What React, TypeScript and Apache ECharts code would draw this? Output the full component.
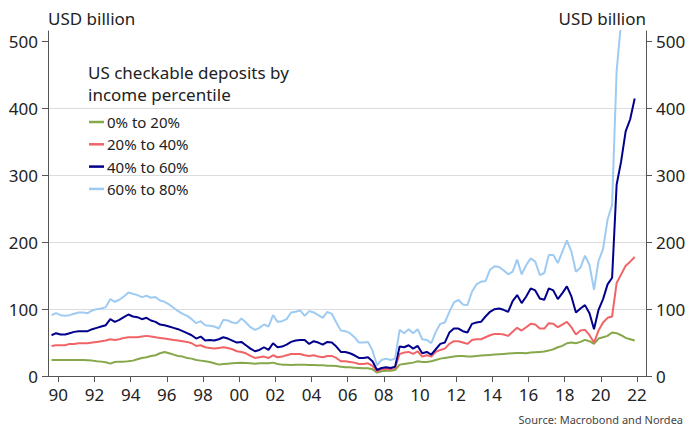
import React, { useEffect, useRef } from "react";
import * as echarts from "echarts";

// Quarterly series, first observation 1989 Q3, last 2021 Q4 (USD billion)
const FIRST_YEAR = 1989;
const FIRST_QUARTER = 3;

const pct0to20 = [
  24, 24,
  24, 24, 24, 24,
  24, 24, 23.5, 23,
  22, 21.5, 20.5, 18.5,
  21, 21.5, 21.5, 22,
  23, 25, 27, 28,
  30, 31, 34, 36,
  34, 32, 30, 29,
  27, 26, 24, 23,
  22, 21, 19, 17,
  18, 18.5, 19, 19.5,
  20, 19.5, 19, 18.5,
  19, 19, 19, 20,
  18, 17, 17, 16.5,
  17, 17, 17, 16.5,
  16.5, 16, 16, 15.5,
  15.5, 15, 14, 13,
  13, 12.5, 12, 11.5,
  11.5, 10, 5, 7,
  8, 8, 9, 17,
  18, 19, 20, 22,
  21, 21, 22, 24,
  26, 27, 28, 29,
  30, 30, 29, 29,
  30, 30.5, 31, 31.5,
  32, 32.5, 33, 33.5,
  34, 34.5, 34.5, 34,
  35, 35.5, 36, 36.5,
  38, 40, 43, 45,
  49, 50, 49, 51,
  54, 52, 48, 56,
  58, 60, 65, 64,
  61, 57, 55, 53,
];

const pct20to40 = [
  45, 46,
  46, 46, 48, 48,
  49, 49, 49, 50,
  51, 52, 53, 55,
  54, 55, 57, 58,
  58, 58, 59, 60,
  59, 58, 57, 56,
  55, 54, 53, 52,
  51, 49, 45, 46,
  43, 42, 41, 42,
  43, 42, 40, 37,
  36, 34, 30, 27,
  28, 29, 27, 31,
  28, 29, 31, 33,
  33, 33, 31, 30,
  31, 29, 28, 30,
  30, 27, 22, 22,
  21, 20, 18, 18,
  19, 15, 7, 10,
  11, 10, 12, 33,
  35, 36, 33, 37,
  29, 31, 29, 36,
  39, 41, 48, 52,
  52, 50, 48, 54,
  55, 55, 58, 61,
  63, 63, 62, 60,
  66, 72, 68, 73,
  78, 77, 71, 71,
  79, 78, 73, 77,
  81, 73, 62, 68,
  69, 61, 50, 68,
  80, 87, 89, 139,
  152, 165, 171, 178,
];

const pct40to60 = [
  61, 64,
  62, 62, 64, 66,
  67, 67, 67, 70,
  72, 74, 76, 85,
  81, 84, 88, 92,
  89, 88, 85, 87,
  83, 81, 77, 76,
  74, 72, 70, 67,
  64, 61, 56, 59,
  53, 54, 53, 55,
  58, 56, 53, 50,
  51, 46, 41, 37,
  39, 43, 39, 49,
  43, 44, 47, 51,
  53, 54, 54, 48,
  52, 50, 47, 51,
  50, 44, 36, 36,
  34, 31, 27, 27,
  28, 22, 9, 12,
  13, 12, 14, 44,
  43, 46, 41, 45,
  34, 36, 32, 40,
  48, 50, 65, 71,
  71, 67, 65, 78,
  80, 81, 89, 96,
  100, 101, 99, 96,
  112, 121, 109, 119,
  131, 128, 116, 114,
  131, 128, 115, 124,
  134, 119, 95, 101,
  106, 94, 70, 99,
  115, 137, 147, 286,
  321, 366, 384, 415,
];

const pct60to80 = [
  91, 94,
  91, 90, 91, 93,
  95, 95, 94, 98,
  100, 101, 103, 115,
  111, 114, 119, 125,
  123, 121, 118, 120,
  117, 118, 113, 111,
  107, 102, 97, 93,
  90, 85, 79, 82,
  76, 75, 74, 71,
  84, 83, 80, 79,
  86, 80, 73, 69,
  72, 77, 74, 91,
  81, 82, 85, 95,
  96, 98, 90, 97,
  95, 91, 87, 96,
  93, 80, 68, 67,
  64, 58, 50, 50,
  51, 38, 16, 24,
  26, 24, 26, 69,
  64, 70, 64, 70,
  55, 54, 49, 66,
  78, 80, 96, 110,
  114, 107, 106, 126,
  137, 141, 142, 159,
  164, 163, 158, 152,
  156, 174, 152, 166,
  176, 171, 151, 154,
  181, 181, 169, 186,
  203, 186, 156, 162,
  180, 166, 129, 172,
  190, 234, 256, 456,
  530, 580, 620, 660,
];

const seriesNames = ["0% to 20%", "20% to 40%", "40% to 60%", "60% to 80%"];
const seriesColors = ["#86a84b", "#f06467", "#00008c", "#9fcbf3"];

const xTickYears = [
  1990, 1992, 1994, 1996, 1998, 2000, 2002, 2004, 2006, 2008, 2010,
  2012, 2014, 2016, 2018, 2020, 2022,
];
const yTickValues = [0, 100, 200, 300, 400, 500];

const FONT = "'Noto Sans', sans-serif";

// Place each quarter at its mid-point on a decimal-year axis
function toPairs(values: number[]): [number, number][] {
  return values.map((v, i) => {
    const q = FIRST_QUARTER - 1 + i;
    const year = FIRST_YEAR + Math.floor(q / 4);
    const quarter = (q % 4) + 1;
    return [year + (quarter - 0.5) / 4, v];
  });
}

export default function App() {
  const ref = useRef<HTMLDivElement>(null);

  useEffect(() => {
    if (!ref.current) return;
    const chart = echarts.init(ref.current, undefined, { renderer: "svg" });
    const allSeries = [pct0to20, pct20to40, pct40to60, pct60to80];

    const yAxisCommon = {
      type: "value" as const,
      min: 0,
      max: 516,
      interval: 100,
      axisLine: { show: true, lineStyle: { color: "#555", width: 1 } },
      axisTick: {
        show: true,
        length: 6,
        customValues: yTickValues,
        lineStyle: { color: "#555" },
      },
      axisLabel: {
        customValues: yTickValues,
        margin: 10,
        color: "#222",
        fontSize: 17,
        fontFamily: FONT,
      },
    };

    chart.setOption({
      animation: false,
      backgroundColor: "#fff",
      title: [
        {
          text: "USD billion",
          left: 48,
          top: 10,
          padding: 0,
          textStyle: { fontSize: 17, fontWeight: "normal", color: "#222", fontFamily: FONT },
        },
        {
          text: "USD billion",
          right: 51,
          top: 10,
          padding: 0,
          textStyle: { fontSize: 17, fontWeight: "normal", color: "#222", fontFamily: FONT },
        },
        {
          text: "US checkable deposits by\nincome percentile",
          left: 88,
          top: 61,
          padding: 0,
          textStyle: {
            fontSize: 17,
            lineHeight: 22,
            fontWeight: "normal",
            color: "#222",
            fontFamily: FONT,
          },
        },
        {
          text: "Source: Macrobond and Nordea",
          right: 14,
          top: 414,
          padding: 0,
          textStyle: { fontSize: 11, fontWeight: "normal", color: "#444", fontFamily: FONT },
        },
      ],
      legend: {
        orient: "vertical",
        left: 89,
        top: 114,
        padding: 0,
        itemWidth: 15,
        itemHeight: 2.5,
        itemGap: 6.3,
        icon: "rect",
        data: seriesNames,
        textStyle: {
          fontSize: 15,
          lineHeight: 16,
          color: "#222",
          fontFamily: FONT,
          padding: [0, 0, 0, -2],
        },
      },
      grid: { left: 48, right: 51, top: 31, bottom: 64, containLabel: false },
      xAxis: {
        type: "value",
        min: 1989.43,
        max: 2022.5,
        axisLine: { show: true, onZero: false, lineStyle: { color: "#555", width: 1 } },
        axisTick: {
          show: true,
          length: 6,
          customValues: xTickYears,
          lineStyle: { color: "#555" },
        },
        axisLabel: {
          customValues: xTickYears,
          margin: 10,
          color: "#222",
          fontSize: 17,
          fontFamily: FONT,
          formatter: (v: number) => String(Math.round(v) % 100).padStart(2, "0"),
        },
        splitLine: { show: false },
      },
      yAxis: [
        {
          ...yAxisCommon,
          position: "left",
          splitLine: {
            show: true,
            showMinLine: false,
            showMaxLine: false,
            lineStyle: { color: "#dcdcdc", width: 1 },
          },
        },
        {
          ...yAxisCommon,
          position: "right",
          splitLine: { show: false },
        },
      ],
      series: allSeries.map((values, i) => ({
        name: seriesNames[i],
        type: "line",
        data: toPairs(values),
        showSymbol: false,
        symbol: "none",
        clip: true,
        lineStyle: { color: seriesColors[i], width: 2 },
        itemStyle: { color: seriesColors[i] },
        z: 2 + i,
      })),
    });

    return () => chart.dispose();
  }, []);

  return <div ref={ref} style={{ width: 697, height: 440, margin: -8 }} />;
}
